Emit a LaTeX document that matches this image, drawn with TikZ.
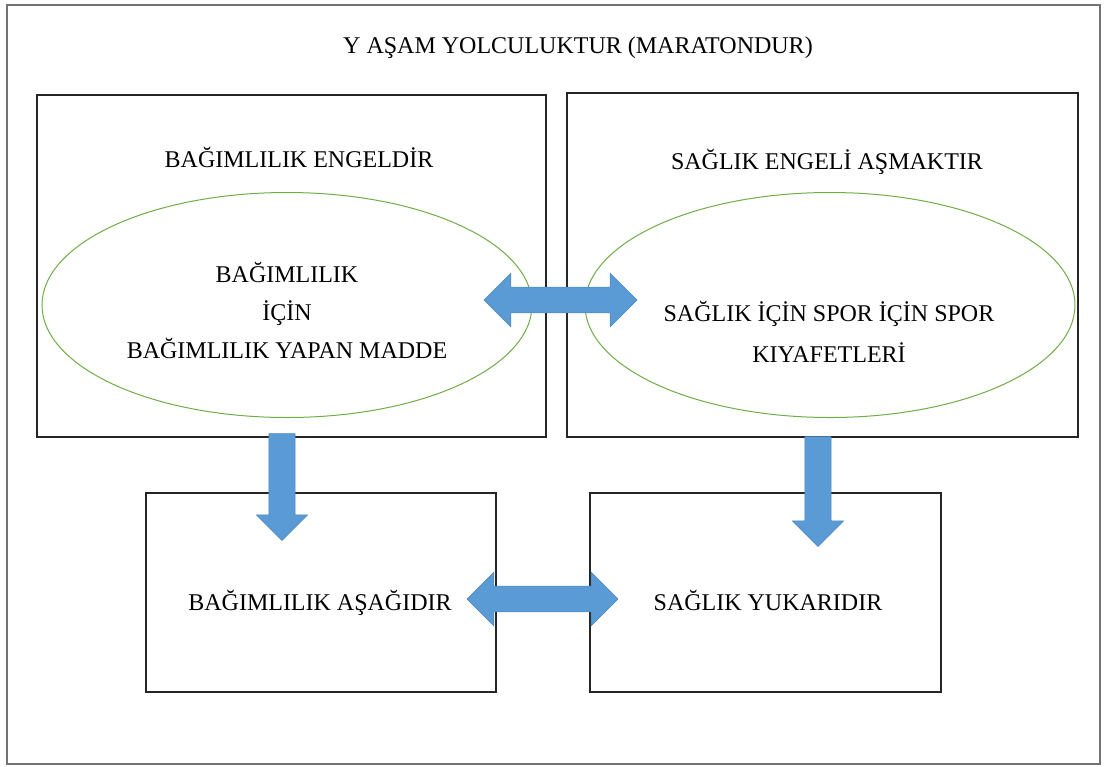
\documentclass[tikz,border=0pt]{standalone}
\usepackage{fontspec}
\setmainfont{Liberation Serif}
\usetikzlibrary{shapes.geometric,shapes.arrows,fit,positioning}

\definecolor{arrowblue}{HTML}{5B9BD5}
\definecolor{arrowedge}{HTML}{4A86C0}
\definecolor{ovalgreen}{HTML}{70AD47}

\begin{document}
\begin{tikzpicture}[x=0.5pt,y=-0.5pt,font=\fontsize{12}{14}\selectfont,
box/.style={draw=black!85,line width=0.75pt,inner sep=0pt},
oval/.style={ellipse,draw=ovalgreen,line width=0.5pt,minimum width=245pt,minimum height=112.5pt},
label/.style={align=center,inner sep=0pt},
dblarrow/.style={double arrow,fill=arrowblue,draw=arrowedge,line width=0.3pt,inner sep=0pt,
  inner ysep=6.3pt,double arrow head extend=7pt,minimum height=#1},
downarrow/.style={single arrow,fill=arrowblue,draw=arrowedge,line width=0.3pt,inner sep=0pt,
  inner xsep=6.4pt,shape border rotate=270,single arrow head extend=6.3pt,minimum height=#1}]
\useasboundingbox (0,0) rectangle (1105,767);
% outer frame
\draw[black!55,line width=1pt] (7,5) rectangle (1100,764);
\node[label] (title) at (578,48) {Y AŞAM YOLCULUKTUR (MARATONDUR)};

% upper boxes
\coordinate (e1) at (37,95);   \coordinate (e2) at (546,437);
\coordinate (s1) at (567,93);  \coordinate (s2) at (1078,437);
\node[box,fit=(e1) (e2)] (engel) {};
\node[box,fit=(s1) (s2)] (asmak) {};
\node[label] (engelt) at (299,157) {BAĞIMLILIK ENGELDİR};
\node[label] (asmakt) at (827,162) {SAĞLIK ENGELİ AŞMAKTIR};

% ovals
\node[oval] (ovL) at (287,305) {};
\node[oval] (ovR) at (830,305) {};
\node[label,font=\fontsize{12}{19}\selectfont] (madde) at (287,310)
  {BAĞIMLILIK\\İÇİN\\BAĞIMLILIK YAPAN MADDE};
\node[label,font=\fontsize{12}{20.5}\selectfont] (spor) at (829,332)
  {SAĞLIK İÇİN SPOR İÇİN SPOR\\KIYAFETLERİ};

% lower boxes
\coordinate (a1) at (146,493); \coordinate (a2) at (496,692);
\coordinate (y1) at (590,493); \coordinate (y2) at (941,692);
\node[box,fit=(a1) (a2)] (asagi) {};
\node[box,fit=(y1) (y2)] (yukari) {};
\node[label] (asagit) at (320,603) {BAĞIMLILIK AŞAĞIDIR};
\node[label] (yukarit) at (768,600) {SAĞLIK YUKARIDIR};

% block arrows
\node[dblarrow=76.5pt] (ust) at (560.5,300) {};
\node[dblarrow=75.5pt] (alt) at (542.5,599) {};
\node[downarrow=53.5pt] (sol) at (282,480.5) {};
\node[downarrow=55pt] (sag) at (818,485) {};
\end{tikzpicture}
\end{document}
